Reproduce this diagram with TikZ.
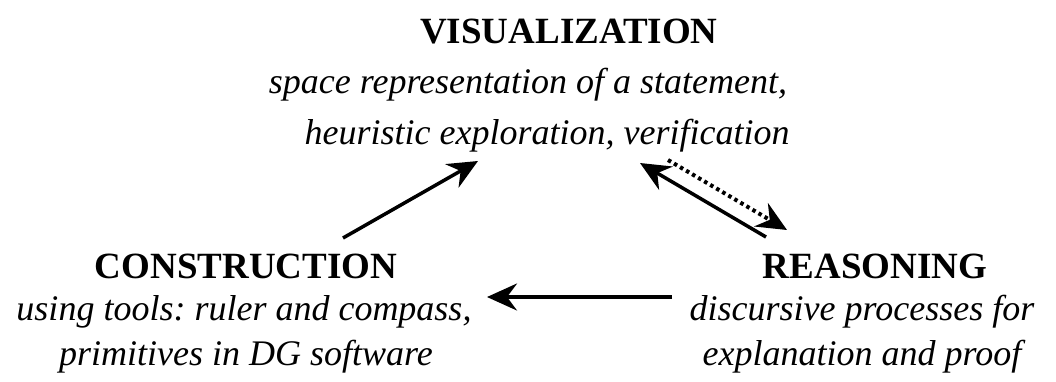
\documentclass[tikz,border=0pt]{standalone}
\usepackage{fontspec}
\setmainfont{Liberation Serif}
\usetikzlibrary{arrows.meta}
\frenchspacing
\begin{document}
\begin{tikzpicture}[x=1pt,y=-1pt,
  title/.style={font=\fontsize{37}{42}\selectfont\bfseries, inner sep=0pt},
  desc/.style={font=\fontsize{36}{40}\selectfont\itshape, inner sep=0pt},
  conn/.style={line width=3.5pt, -{Stealth[length=30pt,width=27pt,inset=10pt]}}]
\useasboundingbox (0,0) rectangle (1056,381);
\node[title] (vis) at (569,32) {VISUALIZATION};
\node[desc] (vis1) at (528,85) {space representation of a statement,};
\node[desc] (vis2) at (547,136) {heuristic exploration, verification};
\node[title] (con) at (246,266) {CONSTRUCTION};
\node[desc] (con1) at (244,312) {using tools: ruler and compass,};
\node[desc] (con2) at (246,357) {primitives in DG software};
\node[title] (rea) at (875,266) {REASONING};
\node[desc] (rea1) at (862,312) {discursive processes for};
\node[desc] (rea2) at (862,357) {explanation and proof};
\coordinate (a1s) at (343,238);
\coordinate (a1e) at (478,161);
\coordinate (a2s) at (766,237);
\coordinate (a2e) at (640,163);
\coordinate (a3s) at (668,160);
\coordinate (a3e) at (787,230);
\coordinate (a4s) at (672,297);
\coordinate (a4e) at (487,297);
\draw[conn] (a1s) -- (a1e);
\draw[conn] (a2s) -- (a2e);
\draw[conn, line width=4pt, dash pattern=on 3.5pt off 3.5pt] (a3s) -- (a3e);
\draw[conn] (a4s) -- (a4e);
\end{tikzpicture}
\end{document}
